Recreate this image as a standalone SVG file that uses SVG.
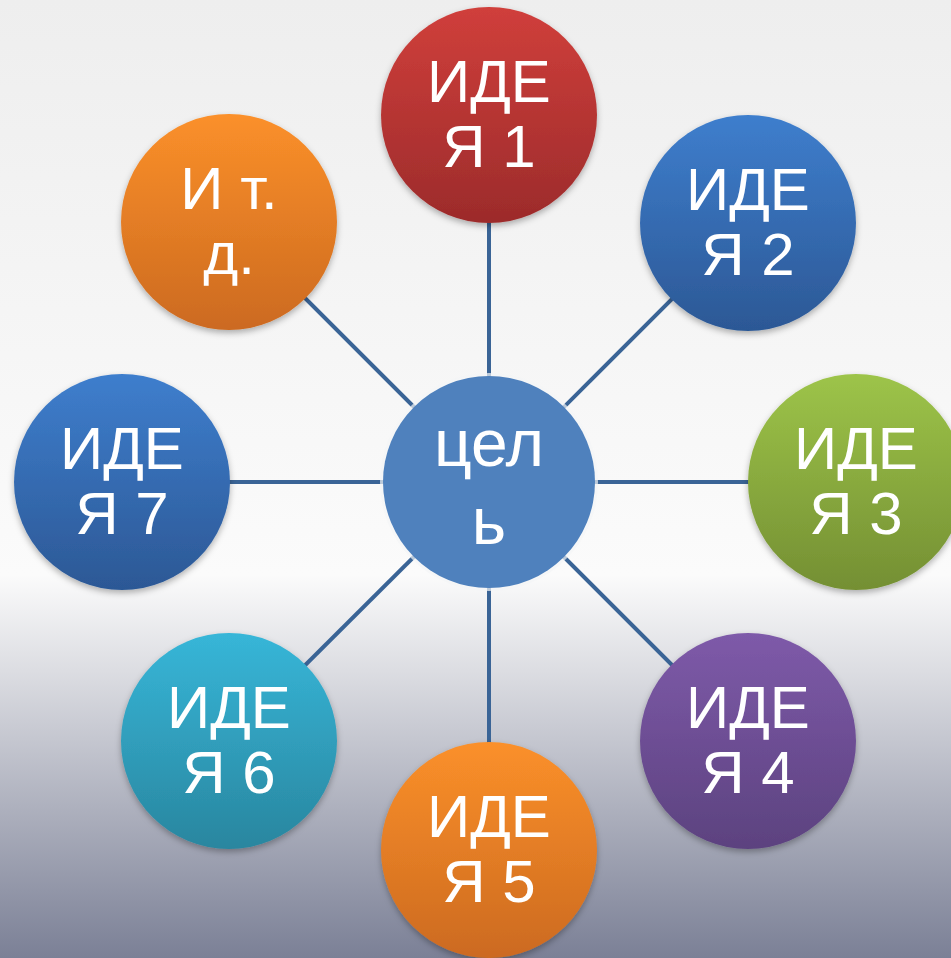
<svg xmlns="http://www.w3.org/2000/svg" width="951" height="958" viewBox="0 0 951 958">
<defs>
<linearGradient id="bg" x1="0" y1="0" x2="0" y2="1">
<stop offset="0" stop-color="#eeeeee"/>
<stop offset="0.6" stop-color="#fbfbfb"/>
<stop offset="0.7" stop-color="#dcdde2"/>
<stop offset="1" stop-color="#7b8096"/>
</linearGradient>
<linearGradient id="gRed" x1="0" y1="0" x2="0" y2="1"><stop offset="0" stop-color="#d03f3b"/><stop offset="1" stop-color="#9c2b2b"/></linearGradient>
<linearGradient id="gBlue" x1="0" y1="0" x2="0" y2="1"><stop offset="0" stop-color="#3e7ecd"/><stop offset="1" stop-color="#2c5895"/></linearGradient>
<linearGradient id="gGreen" x1="0" y1="0" x2="0" y2="1"><stop offset="0" stop-color="#9dc449"/><stop offset="1" stop-color="#748f33"/></linearGradient>
<linearGradient id="gPurple" x1="0" y1="0" x2="0" y2="1"><stop offset="0" stop-color="#7e5aa9"/><stop offset="1" stop-color="#5c427f"/></linearGradient>
<linearGradient id="gOrange" x1="0" y1="0" x2="0" y2="1"><stop offset="0" stop-color="#fb902a"/><stop offset="1" stop-color="#cc6a20"/></linearGradient>
<linearGradient id="gCyan" x1="0" y1="0" x2="0" y2="1"><stop offset="0" stop-color="#37b6d8"/><stop offset="1" stop-color="#29869f"/></linearGradient>
<filter id="sh" x="-20%" y="-20%" width="140%" height="140%">
<feDropShadow dx="0" dy="3" stdDeviation="3" flood-color="#000" flood-opacity="0.3"/>
</filter>
</defs>
<style>
.t{font-family:"Liberation Sans",Arial,sans-serif;fill:#fff;text-anchor:middle;font-size:60px}
.tc{font-family:"Liberation Sans",Arial,sans-serif;fill:#fff;text-anchor:middle;font-size:66px}
.c{filter:url(#sh)}
.ln{stroke:#3a6496;stroke-width:4;fill:none}
</style>
<rect x="0" y="0" width="951" height="958" fill="url(#bg)"/>
<g id="connectors">
<line class="ln" x1="489" y1="482" x2="489" y2="115"/>
<line class="ln" x1="489" y1="482" x2="748" y2="223"/>
<line class="ln" x1="489" y1="482" x2="856" y2="482"/>
<line class="ln" x1="489" y1="482" x2="748" y2="741"/>
<line class="ln" x1="489" y1="482" x2="489" y2="850"/>
<line class="ln" x1="489" y1="482" x2="229" y2="741"/>
<line class="ln" x1="489" y1="482" x2="122" y2="482"/>
<line class="ln" x1="489" y1="482" x2="229" y2="222"/>
</g>
<g id="center">
<circle cx="489" cy="482" r="109" fill="#f4f5f7" opacity="0.7"/>
<circle cx="489" cy="482" r="106" fill="#4f81bd"/>
<text class="tc" x="489" y="466">цел</text>
<text class="tc" x="489" y="544">ь</text>
</g>
<g id="idea1">
<circle class="c" cx="489" cy="115" r="108" fill="url(#gRed)"/>
<text class="t" x="489" y="102">ИДЕ</text>
<text class="t" x="489" y="167">Я 1</text>
</g>
<g id="idea2">
<circle class="c" cx="748" cy="223" r="108" fill="url(#gBlue)"/>
<text class="t" x="748" y="210">ИДЕ</text>
<text class="t" x="748" y="275">Я 2</text>
</g>
<g id="idea3">
<circle class="c" cx="856" cy="482" r="108" fill="url(#gGreen)"/>
<text class="t" x="856" y="469">ИДЕ</text>
<text class="t" x="856" y="534">Я 3</text>
</g>
<g id="idea4">
<circle class="c" cx="748" cy="741" r="108" fill="url(#gPurple)"/>
<text class="t" x="748" y="728">ИДЕ</text>
<text class="t" x="748" y="793">Я 4</text>
</g>
<g id="idea5">
<circle class="c" cx="489" cy="850" r="108" fill="url(#gOrange)"/>
<text class="t" x="489" y="837">ИДЕ</text>
<text class="t" x="489" y="902">Я 5</text>
</g>
<g id="idea6">
<circle class="c" cx="229" cy="741" r="108" fill="url(#gCyan)"/>
<text class="t" x="229" y="728">ИДЕ</text>
<text class="t" x="229" y="793">Я 6</text>
</g>
<g id="idea7">
<circle class="c" cx="122" cy="482" r="108" fill="url(#gBlue)"/>
<text class="t" x="122" y="469">ИДЕ</text>
<text class="t" x="122" y="534">Я 7</text>
</g>
<g id="etc">
<circle class="c" cx="229" cy="222" r="108" fill="url(#gOrange)"/>
<text class="t" x="229" y="209">И т.</text>
<text class="t" x="229" y="274">д.</text>
</g>
</svg>
